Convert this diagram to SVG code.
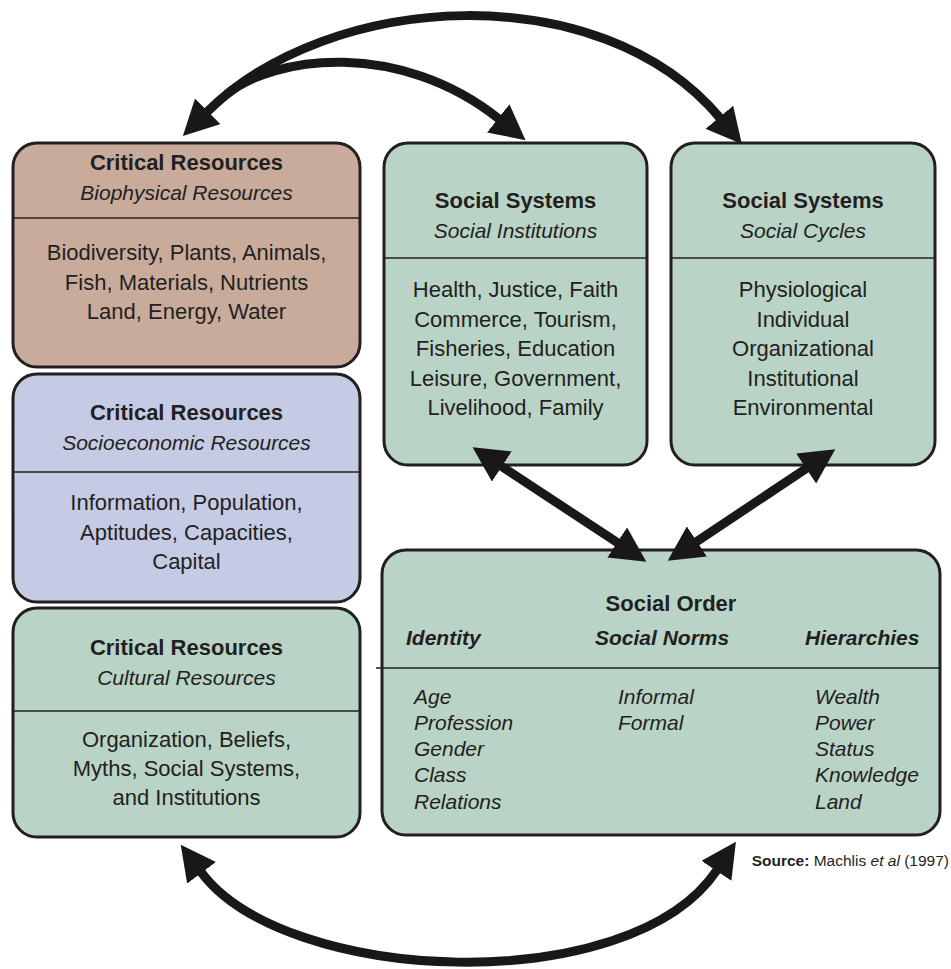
<svg xmlns="http://www.w3.org/2000/svg" width="951" height="969" viewBox="0 0 951 969">
<defs>
<style>
.box{stroke:#231f20;stroke-width:3}
.bio{fill:#c9ab9c}
.soc{fill:#c6cbe5}
.grn{fill:#b9d4c6}
.div{stroke:#231f20;stroke-width:1.6}
text{font-family:"Liberation Sans",Arial,sans-serif;fill:#231f20}
.t{font-size:22px;font-weight:bold;text-anchor:middle}
.s{font-size:21px;font-style:italic;text-anchor:middle}
.b{font-size:22px;text-anchor:middle}
.h{font-size:21px;font-weight:bold;font-style:italic}
.l{font-size:21px;font-style:italic}
.con{fill:none;stroke:#1a1718;stroke-width:9;marker-end:url(#ah)}
.both{marker-start:url(#ah)}
</style>
<marker id="ah" viewBox="-1 -18 35 36" refX="0" refY="0" markerWidth="35" markerHeight="36" markerUnits="userSpaceOnUse" orient="auto-start-reverse">
<path d="M-1,-18 L34,0 L-1,18 z" fill="#1a1718"/>
</marker>
</defs>
<g id="biophysical">
<rect class="box bio" x="13" y="143" width="347" height="224" rx="24"/>
<line class="div" x1="13" y1="218" x2="360" y2="218"/>
<text class="t" x="186.5" y="170">Critical Resources</text>
<text class="s" x="186.5" y="200">Biophysical Resources</text>
<text class="b" x="186.5" y="260">Biodiversity, Plants, Animals,</text>
<text class="b" x="186.5" y="290">Fish, Materials, Nutrients</text>
<text class="b" x="186.5" y="319">Land, Energy, Water</text>
</g>
<g id="socioeconomic">
<rect class="box soc" x="13" y="374" width="347" height="228" rx="24"/>
<line class="div" x1="13" y1="472" x2="360" y2="472"/>
<text class="t" x="186.5" y="420">Critical Resources</text>
<text class="s" x="186.5" y="450">Socioeconomic Resources</text>
<text class="b" x="186.5" y="510">Information, Population,</text>
<text class="b" x="186.5" y="540">Aptitudes, Capacities,</text>
<text class="b" x="186.5" y="569">Capital</text>
</g>
<g id="cultural">
<rect class="box grn" x="13" y="608" width="347" height="229" rx="24"/>
<line class="div" x1="13" y1="711" x2="360" y2="711"/>
<text class="t" x="186.5" y="655">Critical Resources</text>
<text class="s" x="186.5" y="685">Cultural Resources</text>
<text class="b" x="186.5" y="747">Organization, Beliefs,</text>
<text class="b" x="186.5" y="776">Myths, Social Systems,</text>
<text class="b" x="186.5" y="805">and Institutions</text>
</g>
<g id="social-institutions">
<rect class="box grn" x="384" y="143" width="263" height="322" rx="24"/>
<line class="div" x1="384" y1="258" x2="647" y2="258"/>
<text class="t" x="515.5" y="208">Social Systems</text>
<text class="s" x="515.5" y="238">Social Institutions</text>
<text class="b" x="515.5" y="297">Health, Justice, Faith</text>
<text class="b" x="515.5" y="327">Commerce, Tourism,</text>
<text class="b" x="515.5" y="356">Fisheries, Education</text>
<text class="b" x="515.5" y="386">Leisure, Government,</text>
<text class="b" x="515.5" y="415">Livelihood, Family</text>
</g>
<g id="social-cycles">
<rect class="box grn" x="671" y="143" width="264" height="322" rx="24"/>
<line class="div" x1="671" y1="258" x2="935" y2="258"/>
<text class="t" x="803" y="208">Social Systems</text>
<text class="s" x="803" y="238">Social Cycles</text>
<text class="b" x="803" y="297">Physiological</text>
<text class="b" x="803" y="327">Individual</text>
<text class="b" x="803" y="356">Organizational</text>
<text class="b" x="803" y="386">Institutional</text>
<text class="b" x="803" y="415">Environmental</text>
</g>
<g id="social-order">
<rect class="box grn" x="382" y="550" width="558" height="285" rx="24"/>
<line class="div" x1="376" y1="668" x2="940" y2="668"/>
<text class="t" x="671" y="611">Social Order</text>
<text class="h" x="406" y="645">Identity</text>
<text class="h" x="595" y="645">Social Norms</text>
<text class="h" x="805" y="645">Hierarchies</text>
<text class="l" x="414" y="704">Age</text>
<text class="l" x="414" y="730">Profession</text>
<text class="l" x="414" y="756">Gender</text>
<text class="l" x="414" y="782">Class</text>
<text class="l" x="414" y="809">Relations</text>
<text class="l" x="618" y="704">Informal</text>
<text class="l" x="618" y="730">Formal</text>
<text class="l" x="815" y="704">Wealth</text>
<text class="l" x="815" y="730">Power</text>
<text class="l" x="815" y="756">Status</text>
<text class="l" x="815" y="782">Knowledge</text>
<text class="l" x="815" y="809">Land</text>
</g>
<g id="source">
<text x="949" y="866" font-size="15.5" text-anchor="end"><tspan font-weight="bold">Source:</tspan> Machlis <tspan font-style="italic">et al</tspan> (1997)</text>
</g>
<g id="connectors">
<path class="con both" d="M207,112 C330,-10 600,-25 720,118"/>
<path class="con" d="M226.5,94.5 C275,55 400,40 499,119"/>
<path class="con both" d="M501,466 L618,543"/>
<path class="con both" d="M807,468 L696,542"/>
<path class="con both" d="M201,872 C285,985 630,1000 717,870"/>
</g>
</svg>
